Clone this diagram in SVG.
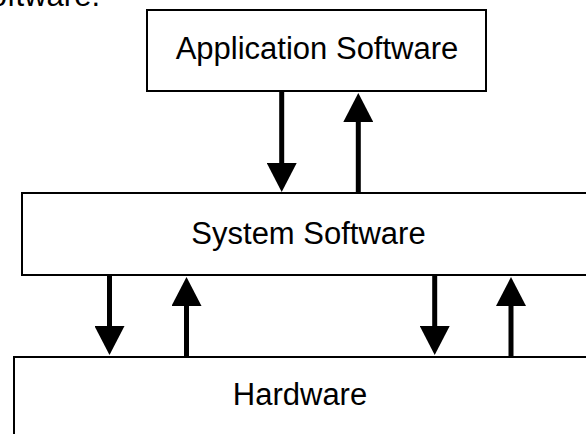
<svg xmlns="http://www.w3.org/2000/svg" width="586" height="434" viewBox="0 0 586 434">
  <defs>
    <style>
      .box { fill: #ffffff; stroke: #000000; stroke-width: 2; }
      .lbl { font-family: "Liberation Sans", Arial, sans-serif; font-size: 31px; fill: #000000; }
      .shaft { stroke: #000000; stroke-width: 5; fill: none; }
    </style>
    <marker id="ah" viewBox="0 0 29 30" markerWidth="29" markerHeight="30" refX="0" refY="15" orient="auto" markerUnits="userSpaceOnUse">
      <path d="M0,0 L29,15 L0,30 Z" fill="#000000"/>
    </marker>
  </defs>
  <rect width="586" height="434" fill="#ffffff"/>
  <text class="lbl" x="100" y="6" text-anchor="end">oftware.</text>
  <g id="application-software">
    <rect class="box" x="147" y="10" width="339" height="81"/>
    <text class="lbl" x="317" y="58.5" text-anchor="middle">Application Software</text>
  </g>
  <g id="system-software">
    <rect class="box" x="22" y="193" width="580" height="82"/>
    <text class="lbl" x="308.5" y="243.5" text-anchor="middle">System Software</text>
  </g>
  <g id="hardware">
    <rect class="box" x="14" y="357" width="590" height="90"/>
    <text class="lbl" x="300" y="405" text-anchor="middle">Hardware</text>
  </g>
  <g id="connectors">
    <line class="shaft" x1="281.7" y1="91" x2="281.7" y2="163" marker-end="url(#ah)"/>
    <line class="shaft" x1="358.3" y1="193" x2="358.3" y2="122" marker-end="url(#ah)"/>
    <line class="shaft" x1="109.5" y1="275" x2="109.5" y2="326" marker-end="url(#ah)"/>
    <line class="shaft" x1="186.5" y1="357" x2="186.5" y2="306" marker-end="url(#ah)"/>
    <line class="shaft" x1="434.7" y1="275" x2="434.7" y2="326" marker-end="url(#ah)"/>
    <line class="shaft" x1="511" y1="357" x2="511" y2="306" marker-end="url(#ah)"/>
  </g>
</svg>
